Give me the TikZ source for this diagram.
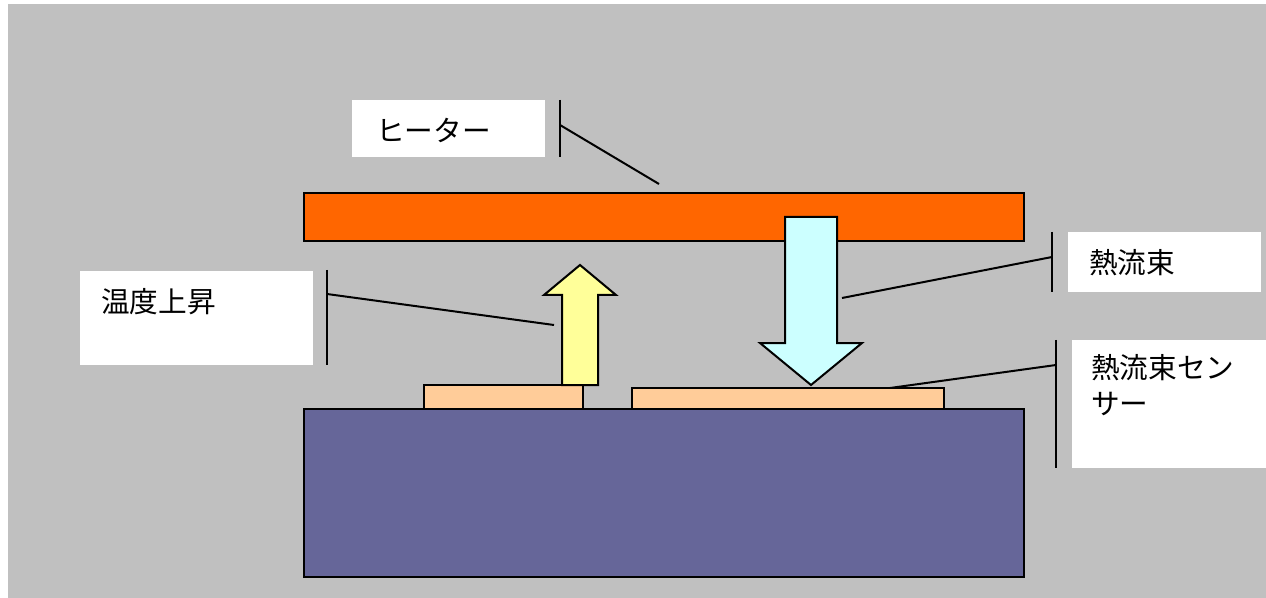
\documentclass[tikz,border=0pt]{standalone}
\usepackage{fontspec}
\newfontfamily\jp{Noto Sans CJK JP}
\definecolor{bggrey}{HTML}{C0C0C0}
\definecolor{heaterorange}{HTML}{FF6600}
\definecolor{baseblue}{HTML}{666699}
\definecolor{sensorpeach}{HTML}{FFCC99}
\definecolor{riseyellow}{HTML}{FFFF99}
\definecolor{fluxcyan}{HTML}{CCFFFF}
\begin{document}
\begin{tikzpicture}[x=0.75pt,y=-0.75pt,
  block/.style={draw=black,line width=1.5pt,inner sep=0pt,outer sep=0pt},
  lblbox/.style={fill=white,inner sep=0pt,outer sep=0pt},
  lbltext/.style={font=\jp\fontsize{21.5}{27}\selectfont,inner sep=0pt,anchor=west,align=left},
  callout/.style={draw=black,line width=1.5pt},
  bigarrow/.style={draw=black,line width=1.5pt,line join=miter}]
\useasboundingbox (0,0) rectangle (1266,598);
\fill[bggrey] (8,4) rectangle (1266,598);

% heater plate
\node[block,fill=heaterorange,minimum width=540pt,minimum height=36pt] (heater) at (664,217) {};
% base block
\node[block,fill=baseblue,minimum width=540pt,minimum height=126pt] (base) at (664,493) {};
% sensors
\node[block,fill=sensorpeach,minimum width=119.25pt,minimum height=18pt] (sensorL) at (503.5,397) {};
\node[block,fill=sensorpeach,minimum width=234pt,minimum height=15.75pt] (sensorR) at (788,398.5) {};

% temperature rise arrow (upwards)
\draw[bigarrow,fill=riseyellow] (562,385) -- (562,295) -- (544,295) -- (580,265) coordinate (risetip)
  -- (616,295) -- (598,295) -- (598,385) -- cycle;
% heat flux arrow (downwards)
\draw[bigarrow,fill=fluxcyan] (785,217) -- (837,217) -- (837,343) -- (862,343) -- (811,385) coordinate (fluxtip)
  -- (760,343) -- (785,343) -- cycle;

% label boxes
\node[lblbox,minimum width=144.75pt,minimum height=42.75pt] (lheater) at (448.5,128.5) {};
\node[lbltext] at (376,130) {ヒーター};

\node[lblbox,minimum width=174.75pt,minimum height=70.5pt] (lrise) at (196.5,318) {};
\node[lbltext] at (101,302) {温度上昇};

\node[lblbox,minimum width=144.75pt,minimum height=45pt] (lflux) at (1164.5,262) {};
\node[lbltext] at (1089,263) {熱流束};

\node[lblbox,minimum width=145.5pt,minimum height=96pt] (lsensor) at (1169,404) {};
\node[lbltext,anchor=north west] at (1091,354) {熱流束セン\\サー};

% callout bars and leaders
\coordinate (cHeat) at (659,184);
\coordinate (cRise) at (554,325);
\coordinate (cFlux) at (842,298);
\coordinate (cSens) at (890,388);

\draw[callout] (560,100) -- (560,157);
\draw[callout] (560,125) -- (cHeat);

\draw[callout] (327,270) -- (327,365);
\draw[callout] (327,294) -- (cRise);

\draw[callout] (1052,232) -- (1052,292);
\draw[callout] (1052,257) -- (cFlux);

\draw[callout] (1056,340) -- (1056,468);
\draw[callout] (1056,365) -- (cSens);
\end{tikzpicture}
\end{document}
